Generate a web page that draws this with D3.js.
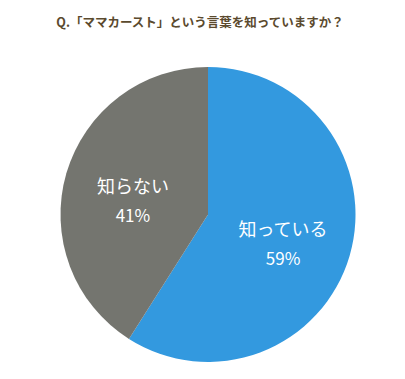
<!DOCTYPE html>
<html>
<head>
<meta charset="utf-8">
<script src="https://cdn.jsdelivr.net/npm/d3@7"></script>
<style>
  body { margin: 0; background: #fff; }
  text { font-family: "Noto Sans CJK JP", "Noto Sans", sans-serif; }
</style>
</head>
<body>
<div id="chart"></div>
<script>
var title = "Q.「ママカースト」という言葉を知っていますか？";
var categories = ["知っている", "知らない"];
var values = [59, 41];
var colors = ["#3399df", "#74756f"];

var width = 405, height = 379,
    cx = 208, cy = 214.5, radius = 147.5;

var svg = d3.select("#chart")
  .append("svg")
  .attr("width", width)
  .attr("height", height);

svg.append("text")
  .attr("x", 200)
  .attr("y", 27)
  .attr("text-anchor", "middle")
  .style("font-size", "12.5px")
  .style("font-weight", "bold")
  .style("fill", "#5b4a2e")
  .text(title);

var data = categories.map((c, i) => ({name: c, value: values[i], color: colors[i]}));

var pie = d3.pie().sort(null).value(d => d.value);
var arc = d3.arc().innerRadius(0).outerRadius(radius);
var labelArc = d3.arc().innerRadius(radius * 0.53).outerRadius(radius * 0.53);

var g = svg.append("g")
  .attr("transform", `translate(${cx},${cy})`);

var slices = g.selectAll(".slice")
  .data(pie(data))
  .enter().append("g")
  .attr("class", "slice");

slices.append("path")
  .attr("d", arc)
  .style("fill", d => d.data.color);

// labels: name + percent
var labels = slices.append("text")
  .attr("transform", d => {
    var c = labelArc.centroid(d);
    return `translate(${c[0]},${c[1] + 6})`;
  })
  .attr("text-anchor", "middle")
  .style("fill", "#fff")
  .style("font-size", "18px");

labels.append("tspan")
  .attr("x", 0)
  .attr("y", -6)
  .text(d => d.data.name);

labels.append("tspan")
  .attr("x", 0)
  .attr("y", 23)
  .style("font-size", "17px")
  .text(d => d.data.value + "%");
</script>
</body>
</html>
